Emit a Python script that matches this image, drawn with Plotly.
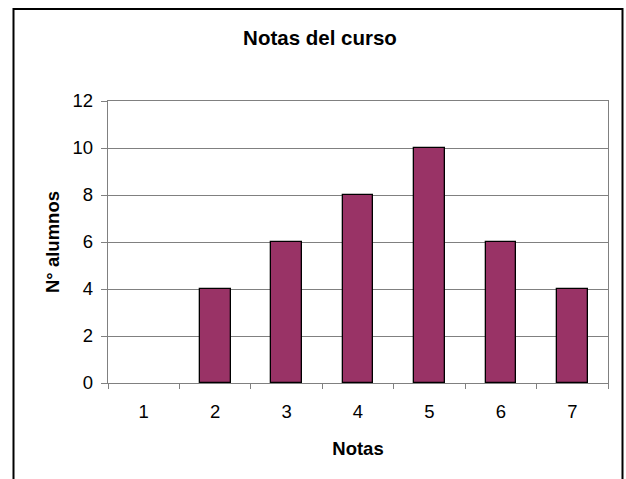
import plotly.graph_objects as go

notas = ["1", "2", "3", "4", "5", "6", "7"]
alumnos = [0, 4, 6, 8, 10, 6, 4]
y_ticks = [0, 2, 4, 6, 8, 10, 12]

W, H = 626, 479
L, R, T, B = 108, 18, 101, 96
pw, ph = W - L - R, H - T - B

def px_x(x):
    return (x - L) / pw

def px_y(y):
    return (H - B - y) / ph

fig = go.Figure(go.Bar(
    x=notas, y=alumnos,
    marker=dict(color="#993366",
                line=dict(color="black", width=[0 if v == 0 else 1.3 for v in alumnos])),
    width=0.43,
))

fig.update_layout(
    width=W, height=H,
    margin=dict(l=L, r=R, t=T, b=B),
    paper_bgcolor="white", plot_bgcolor="white",
    font=dict(family="Liberation Sans, Arial", color="black", size=18),
    title=dict(text="<b>Notas del curso</b>", x=px_x(320), xref="paper", xanchor="center",
               y=1 - 38 / H, yanchor="middle", font=dict(size=20.5)),
    showlegend=False,
    bargap=0,
)
fig.update_xaxes(
    type="category", range=[-0.5, 6.5],
    showline=True, linecolor="#808080", linewidth=1.3, mirror=True,
    ticks="outside", ticklen=5, tickcolor="#808080", tickson="boundaries",
    showgrid=False,
    tickfont=dict(size=18.5), ticklabelstandoff=12,
    title=dict(text="<b>Notas</b>", font=dict(size=18.5), standoff=20),
)
fig.update_yaxes(
    range=[0, 12], tickvals=y_ticks,
    showline=True, linecolor="#808080", linewidth=1.3, mirror=True,
    ticks="outside", ticklen=6, tickcolor="#808080",
    showgrid=True, gridcolor="#808080", gridwidth=1,
    zeroline=False,
    tickfont=dict(size=18.5), ticklabelstandoff=4,
    title=dict(text="<b>N° alumnos</b>", font=dict(size=18.5), standoff=8),
)
fig.add_shape(type="rect", xref="paper", yref="paper",
              x0=px_x(13.5), x1=px_x(622.5), y0=px_y(490), y1=px_y(9),
              line=dict(color="black", width=2), fillcolor="rgba(0,0,0,0)", layer="above")

fig.write_html("out.html")
